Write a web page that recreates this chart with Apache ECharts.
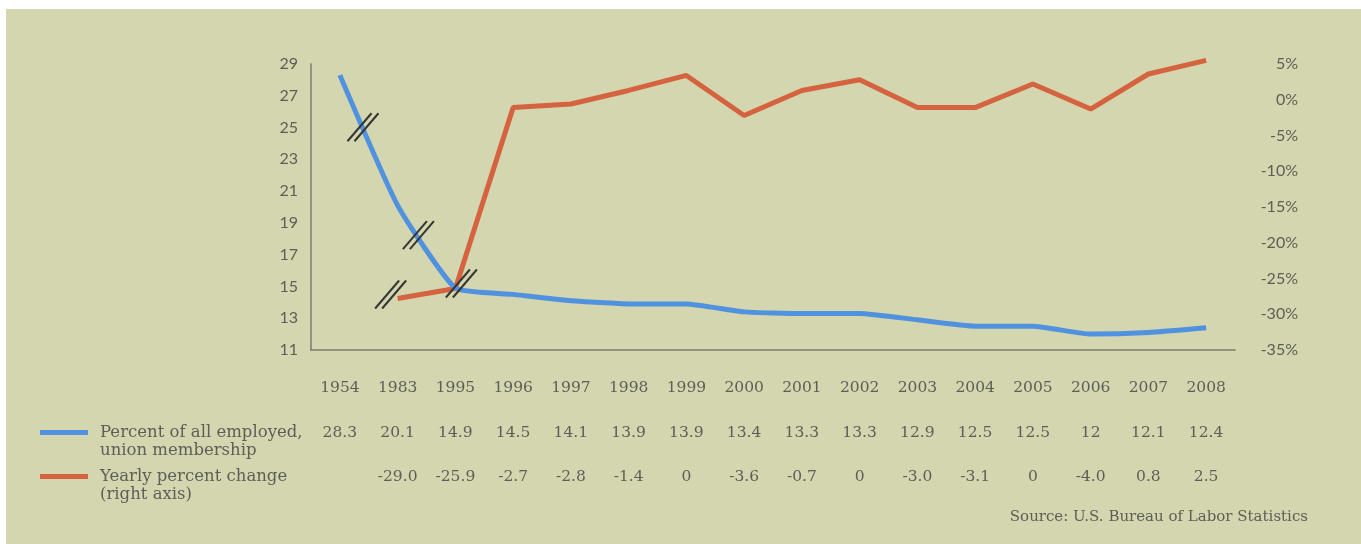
<!DOCTYPE html>
<html>
<head>
<meta charset="utf-8">
<script src="https://cdn.jsdelivr.net/npm/echarts@6/dist/echarts.min.js"></script>
<style>
  html, body { margin: 0; padding: 0; background: #ffffff; }
  #bg { position: absolute; left: 6px; top: 9px; right: 0; bottom: 0; background: #d3d6ae; }
  #chart { position: absolute; left: 0; top: 0; width: 1361px; height: 544px; }
</style>
</head>
<body>
<div id="bg"></div>
<div id="chart"></div>
<script>
// ---- data ----
const categories = ['1954','1983','1995','1996','1997','1998','1999','2000','2001','2002','2003','2004','2005','2006','2007','2008'];
const seriesNames = ['Percent of all employed,\nunion membership', 'Yearly percent change\n(right axis)'];
// union membership share (left axis)
const unionShare = [28.3, 20.1, 14.9, 14.5, 14.1, 13.9, 13.9, 13.4, 13.3, 13.3, 12.9, 12.5, 12.5, 12, 12.1, 12.4];
// yearly percent change as drawn in the picture (right axis)
const yearlyChange = [null, -27.8, -26.4, -1.1, -0.6, 1.3, 3.4, -2.2, 1.3, 2.8, -1.1, -1.1, 2.2, -1.3, 3.6, 5.5];
// table rows as printed
const unionLabels = ['28.3','20.1','14.9','14.5','14.1','13.9','13.9','13.4','13.3','13.3','12.9','12.5','12.5','12','12.1','12.4'];
const changeLabels = ['','-29.0','-25.9','-2.7','-2.8','-1.4','0','-3.6','-0.7','0','-3.0','-3.1','0','-4.0','0.8','2.5'];
const sourceText = 'Source: U.S. Bureau of Labor Statistics';

const BLUE = '#5192e0';
const ORANGE = '#d6633f';
const AXIS = '#7b7b70';
const TXT = '#5e5e58';
const SERIF = 'DejaVu Serif';
const SANS = 'Lato';

const chart = echarts.init(document.getElementById('chart'), null, { renderer: 'canvas' });

function tableAxis(margin, labels) {
  return {
    type: 'category', data: categories, position: 'bottom', offset: 0, gridIndex: 0,
    boundaryGap: true,
    axisLine: { show: false, onZero: false }, axisTick: { show: false }, splitLine: { show: false },
    axisLabel: {
      interval: 0, margin: margin, fontFamily: SERIF, fontSize: 15.5, color: TXT,
      formatter: (v, i) => labels[i]
    }
  };
}

const option = {
  backgroundColor: 'transparent',
  animation: false,
  grid: { left: 311, right: 126, top: 64, bottom: 194, containLabel: false },
  xAxis: [
    {
      type: 'category', data: categories, position: 'bottom', boundaryGap: true,
      axisLine: { show: true, onZero: false, lineStyle: { color: AXIS, width: 1.5 } },
      axisTick: { show: false }, splitLine: { show: false },
      axisLabel: { interval: 0, margin: 30, fontFamily: SERIF, fontSize: 15.5, color: TXT }
    },
    tableAxis(75, unionLabels),
    tableAxis(119, changeLabels)
  ],
  yAxis: [
    {
      type: 'value', min: 11, max: 29, interval: 2, position: 'left',
      axisLine: { show: true, onZero: false, lineStyle: { color: AXIS, width: 1.5 } },
      axisTick: { show: false }, splitLine: { show: false },
      axisLabel: { margin: 13, fontFamily: SANS, fontSize: 16, color: TXT }
    },
    {
      type: 'value', min: -35, max: 5, interval: 5, position: 'right',
      axisLine: { show: false, onZero: false }, axisTick: { show: false }, splitLine: { show: false },
      axisLabel: { margin: 63, align: 'right', fontFamily: SANS, fontSize: 16, color: TXT, formatter: '{value}%' }
    }
  ],
  series: [
    {
      name: seriesNames[0], type: 'line', xAxisIndex: 0, yAxisIndex: 0,
      data: unionShare, smooth: 0.15, symbol: 'none', clip: false,
      lineStyle: { color: BLUE, width: 5 }, itemStyle: { color: BLUE }, z: 3
    },
    {
      name: seriesNames[1], type: 'line', xAxisIndex: 0, yAxisIndex: 1,
      data: yearlyChange, smooth: false, symbol: 'none', clip: false, connectNulls: false,
      lineStyle: { color: ORANGE, width: 5 }, itemStyle: { color: ORANGE }, z: 2
    }
  ]
};
chart.setOption(option);

// ---- decorations: break marks, legend, source ----
function px(axisIdx, i, v) {
  return chart.convertToPixel({ xAxisIndex: 0, yAxisIndex: axisIdx }, [i, v]);
}
function lerp(a, b, t) { return [a[0] + (b[0] - a[0]) * t, a[1] + (b[1] - a[1]) * t]; }

const b0 = px(0, 0, unionShare[0]), b1 = px(0, 1, unionShare[1]), b2 = px(0, 2, unionShare[2]);
const o1 = px(1, 1, yearlyChange[1]), o2 = px(1, 2, yearlyChange[2]);
const breakCenters = [
  lerp(b0, b1, 0.40),
  lerp(b1, b2, 0.36),
  [o1[0] - 7, o1[1] - 4],
  [o2[0] + 6, o2[1] - 5]
];
const graphics = [];
breakCenters.forEach(c => {
  [-3.5, 3.5].forEach(off => {
    graphics.push({
      type: 'line', z: 10,
      shape: { x1: c[0] - 12 + off, y1: c[1] + 14, x2: c[0] + 12 + off, y2: c[1] - 14 },
      style: { stroke: '#353533', lineWidth: 2 }
    });
  });
});

// legend
const legendRows = [
  { color: BLUE, y: 433, lines: seriesNames[0].split('\n') },
  { color: ORANGE, y: 477, lines: seriesNames[1].split('\n') }
];
legendRows.forEach(r => {
  graphics.push({ type: 'rect', shape: { x: 40, y: r.y - 3, width: 48, height: 5 }, style: { fill: r.color } });
  r.lines.forEach((t, k) => {
    graphics.push({
      type: 'text', x: 100, y: r.y + k * 18,
      style: { text: t, font: '16.5px "' + SERIF + '"', fill: TXT, textAlign: 'left', textVerticalAlign: 'middle' }
    });
  });
});

graphics.push({
  type: 'text', x: 1308, y: 517,
  style: { text: sourceText, font: '15px "' + SERIF + '"', fill: TXT, textAlign: 'right', textVerticalAlign: 'middle' }
});

chart.setOption({ graphic: graphics });
</script>
</body>
</html>
